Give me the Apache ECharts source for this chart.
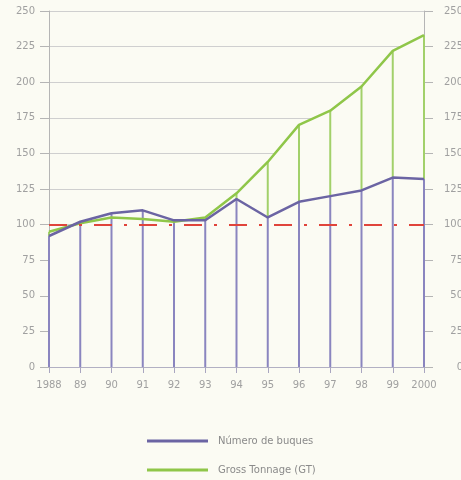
<!DOCTYPE html>
<html>
<head>
<meta charset="utf-8">
<script src="https://cdn.jsdelivr.net/npm/echarts@6/dist/echarts.min.js"></script>
<style>
html,body{margin:0;padding:0;background:#fbfbf3;}
#c{width:461px;height:480px;}
</style>
</head>
<body>
<div id="c"></div>
<script>
const years = ['1988','89','90','91','92','93','94','95','96','97','98','99','2000'];
const buques = [92, 102, 108, 110, 103, 103, 118, 105, 116, 120, 124, 133, 132];
const gt = [95, 101, 105, 104, 102, 105, 122, 144, 170, 180, 197, 222, 233];
const refValue = 100;
const yTicks = [0, 25, 50, 75, 100, 125, 150, 175, 200, 225, 250];

const bg = '#fbfbf3';
const purple = '#6b64a3';
const purpleV = '#8a85bf';
const green = '#8fc649';
const greenV = '#a2d06a';
const labelStyle = {color: '#a0a0a0', fontSize: 10, fontFamily: 'DejaVu Sans'};

const dropData = years.map((y, i) => [i, buques[i], gt[i]]);

const chart = echarts.init(document.getElementById('c'), null, {renderer: 'canvas'});
chart.setOption({
  animation: false,
  backgroundColor: bg,
  grid: {left: 49, right: 37, top: 11, bottom: 113, containLabel: false, outerBoundsMode: 'none'},
  legend: {
    orient: 'vertical',
    left: 142,
    top: 431,
    itemWidth: 61,
    itemHeight: 3,
    itemGap: 19,
    icon: 'rect',
    textStyle: {color: '#8a8a8a', fontSize: 10, fontFamily: 'DejaVu Sans', padding: [0, 0, 0, 5]},
    data: ['Número de buques', 'Gross Tonnage (GT)']
  },
  xAxis: {
    type: 'category',
    data: years,
    boundaryGap: false,
    axisLine: {lineStyle: {color: '#a9a6c0', width: 1.5}},
    axisTick: {show: true, length: 6, lineStyle: {color: '#a9a6c0'}},
    axisLabel: Object.assign({margin: 13, interval: 0}, labelStyle),
    splitLine: {show: false}
  },
  yAxis: [
    {
      type: 'value', min: 0, max: 250, interval: 25,
      axisLine: {show: true, lineStyle: {color: '#b5b5b5', width: 1}},
      axisTick: {show: true, length: 9, lineStyle: {color: '#b5b5b5'}},
      axisLabel: Object.assign({margin: 14}, labelStyle),
      splitLine: {show: true, lineStyle: {color: '#cfcfcf', width: 1}}
    },
    {
      type: 'value', min: 0, max: 250, interval: 25, position: 'right',
      axisLine: {show: true, lineStyle: {color: '#b5b5b5', width: 1}},
      axisTick: {show: true, length: 9, lineStyle: {color: '#b5b5b5'}},
      axisLabel: Object.assign({margin: 39, align: 'right'}, labelStyle),
      splitLine: {show: false}
    }
  ],
  series: [
    {
      name: 'gtArea',
      type: 'line',
      data: gt,
      symbol: 'none',
      lineStyle: {width: 0},
      areaStyle: {color: bg, opacity: 1, origin: 'start'},
      z: 1,
      silent: true
    },
    {
      name: 'drops',
      type: 'custom',
      data: dropData,
      z: 2,
      silent: true,
      renderItem: function (params, api) {
        const x = api.value(0), p = api.value(1), g = api.value(2);
        const a = api.coord([x, 0]);
        const b = api.coord([x, p]);
        const c = api.coord([x, g]);
        const children = [{
          type: 'line',
          shape: {x1: a[0], y1: a[1], x2: b[0], y2: b[1]},
          style: {stroke: purpleV, lineWidth: 2}
        }];
        if (g > p) {
          children.push({
            type: 'line',
            shape: {x1: b[0], y1: b[1], x2: c[0], y2: c[1]},
            style: {stroke: greenV, lineWidth: 2}
          });
        }
        return {type: 'group', children: children};
      }
    },
    {
      name: 'Gross Tonnage (GT)',
      type: 'line',
      data: gt,
      symbol: 'none',
      itemStyle: {color: green},
      lineStyle: {color: green, width: 2.5},
      z: 4
    },
    {
      name: 'Número de buques',
      type: 'line',
      data: buques,
      symbol: 'none',
      itemStyle: {color: purple},
      lineStyle: {color: purple, width: 2.5},
      z: 5,
      markLine: {
        silent: true,
        symbol: 'none',
        label: {show: false},
        lineStyle: {color: '#e0443b', width: 2, type: [18, 12, 3, 12]},
        data: [{yAxis: refValue}]
      }
    }
  ]
});
</script>
</body>
</html>
